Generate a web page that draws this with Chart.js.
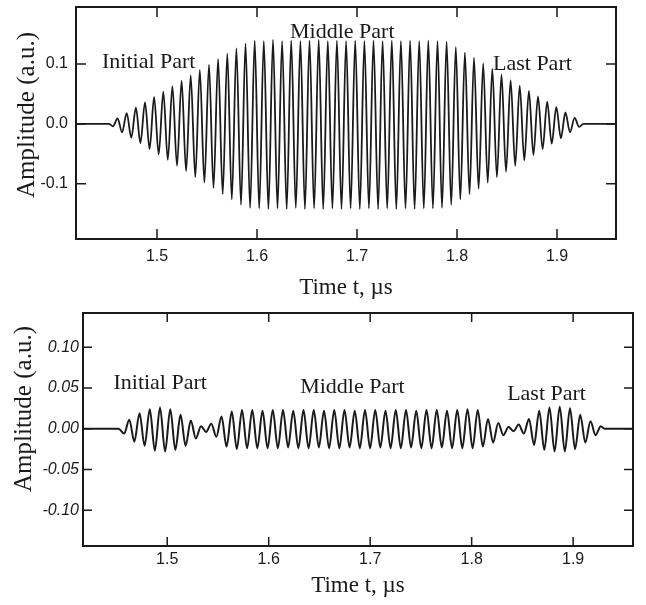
<!DOCTYPE html>
<html>
<head>
<meta charset="utf-8">
<script src="https://cdn.jsdelivr.net/npm/chart.js@4.4.1/dist/chart.umd.min.js"></script>
<style>
    html, body { margin: 0; padding: 0; background: #fff; }
    #wrap { position: relative; width: 646px; height: 605px; }
    canvas { position: absolute; left: 0; }
    #top-chart { top: 0; }
    #bottom-chart { top: 300px; }
</style>
</head>
<body>
<div id="wrap">
    <canvas id="top-chart" width="646" height="300"></canvas>
    <canvas id="bottom-chart" width="646" height="305"></canvas>
</div>
<script>
// Data: extrema of the signals (time in µs, amplitude in a.u.)
const topTime = [1.419, 1.452,
    1.4560, 1.4606, 1.4651, 1.4697, 1.4743, 1.4789, 1.4834, 1.4880, 1.4926, 1.4971,
    1.5017, 1.5063, 1.5108, 1.5154, 1.5200, 1.5246, 1.5291, 1.5337, 1.5383, 1.5428,
    1.5474, 1.5520, 1.5565, 1.5611, 1.5657, 1.5703, 1.5748, 1.5794, 1.5840, 1.5885,
    1.5931, 1.5977, 1.6022, 1.6068, 1.6114, 1.6160, 1.6205, 1.6251, 1.6297, 1.6342,
    1.6388, 1.6434, 1.6479, 1.6525, 1.6571, 1.6617, 1.6662, 1.6708, 1.6754, 1.6799,
    1.6845, 1.6891, 1.6936, 1.6982, 1.7028, 1.7074, 1.7119, 1.7165, 1.7211, 1.7256,
    1.7302, 1.7348, 1.7393, 1.7439, 1.7485, 1.7531, 1.7576, 1.7622, 1.7668, 1.7713,
    1.7759, 1.7805, 1.7850, 1.7896, 1.7942, 1.7988, 1.8033, 1.8079, 1.8125, 1.8170,
    1.8216, 1.8262, 1.8307, 1.8353, 1.8399, 1.8445, 1.8490, 1.8536, 1.8582, 1.8627,
    1.8673, 1.8719, 1.8764, 1.8810, 1.8856, 1.8902, 1.8947, 1.8993, 1.9039, 1.9084,
    1.9130, 1.9176, 1.9221,
    1.9265, 1.959];
const topAmp = [0, 0,
    -0.004, 0.009, -0.014, 0.018, -0.023, 0.027, -0.032, 0.036, -0.042, 0.045,
    -0.051, 0.054, -0.060, 0.063, -0.070, 0.072, -0.079, 0.081, -0.089, 0.090,
    -0.098, 0.099, -0.107, 0.108, -0.117, 0.117, -0.126, 0.126, -0.135, 0.134,
    -0.140, 0.139, -0.141, 0.138, -0.142, 0.140, -0.141, 0.138, -0.142, 0.139,
    -0.140, 0.138, -0.142, 0.139, -0.141, 0.140, -0.142, 0.138, -0.141, 0.139,
    -0.142, 0.138, -0.141, 0.139, -0.142, 0.138, -0.141, 0.139, -0.142, 0.138,
    -0.141, 0.139, -0.142, 0.138, -0.141, 0.139, -0.142, 0.138, -0.141, 0.139,
    -0.141, 0.138, -0.140, 0.137, -0.135, 0.128, -0.126, 0.119, -0.117, 0.110,
    -0.108, 0.101, -0.098, 0.092, -0.089, 0.082, -0.080, 0.073, -0.070, 0.064,
    -0.061, 0.055, -0.052, 0.046, -0.042, 0.037, -0.033, 0.028, -0.024, 0.019,
    -0.014, 0.010, -0.005,
    0, 0];

const bottomTime = [1.417, 1.452,
    1.4575, 1.4626, 1.4676, 1.4727, 1.4777, 1.4828, 1.4878, 1.4929, 1.4979, 1.5030,
    1.5080, 1.5131, 1.5181, 1.5232, 1.5282, 1.5333, 1.5383, 1.5434, 1.5484, 1.5535,
    1.5585, 1.5636, 1.5686, 1.5737, 1.5787, 1.5838, 1.5888, 1.5939, 1.5989, 1.6040,
    1.6090, 1.6141, 1.6191, 1.6242, 1.6292, 1.6343, 1.6393, 1.6444, 1.6494, 1.6545,
    1.6595, 1.6646, 1.6696, 1.6747, 1.6797, 1.6848, 1.6898, 1.6949, 1.6999, 1.7050,
    1.7100, 1.7151, 1.7201, 1.7252, 1.7302, 1.7353, 1.7403, 1.7454, 1.7504, 1.7555,
    1.7605, 1.7656, 1.7706, 1.7757, 1.7807, 1.7858, 1.7908, 1.7959, 1.8009, 1.8060,
    1.8110, 1.8161, 1.8211, 1.8262, 1.8312, 1.8363, 1.8413, 1.8464, 1.8514, 1.8565,
    1.8615, 1.8666, 1.8716, 1.8767, 1.8817, 1.8868, 1.8918, 1.8969, 1.9019, 1.9070,
    1.9120, 1.9171, 1.9221, 1.9272,
    1.931, 1.959];
const bottomAmp = [0, 0,
    -0.006, 0.011, -0.016, 0.019, -0.021, 0.024, -0.027, 0.026, -0.028, 0.024,
    -0.026, 0.017, -0.021, 0.010, -0.012, 0.003, -0.004, 0.006, -0.010, 0.015,
    -0.022, 0.021, -0.025, 0.023, -0.024, 0.023, -0.024, 0.022, -0.024, 0.023,
    -0.024, 0.023, -0.023, 0.022, -0.024, 0.023, -0.024, 0.023, -0.023, 0.022,
    -0.024, 0.023, -0.024, 0.023, -0.023, 0.022, -0.024, 0.023, -0.024, 0.023,
    -0.023, 0.022, -0.024, 0.023, -0.024, 0.023, -0.023, 0.022, -0.024, 0.023,
    -0.024, 0.023, -0.023, 0.022, -0.024, 0.023, -0.024, 0.024, -0.024, 0.023,
    -0.022, 0.012, -0.017, 0.007, -0.008, 0.002, -0.003, 0.005, -0.006, 0.012,
    -0.020, 0.022, -0.026, 0.026, -0.028, 0.027, -0.028, 0.025, -0.025, 0.017,
    -0.017, 0.009, -0.008, 0.003,
    0, 0];

// Axis ticks
const timeTicks = [1.5, 1.6, 1.7, 1.8, 1.9];
const topAmpTicks = [-0.1, 0, 0.1];
const bottomAmpTicks = [-0.10, -0.05, 0, 0.05, 0.10];

// Text
const xTitle = 'Time t, µs';
const yTitle = 'Amplitude (a.u.)';
const partNames = ['Initial Part', 'Middle Part', 'Last Part'];

const INK = '#1a1a1a';
const SERIF = '"Liberation Serif", "Times New Roman", serif';
const SANS = '"Liberation Sans", Arial, sans-serif';

// Frame, inward ticks, notes and the y title
const framePlugin = {
    id: 'frame',
    afterDraw(chart, args, opts) {
        const { ctx, chartArea: a } = chart;
        const x = chart.scales.x;
        const y = chart.scales.y;
        ctx.save();
        ctx.strokeStyle = INK;
        ctx.lineWidth = 2;
        ctx.strokeRect(a.left, a.top, a.right - a.left, a.bottom - a.top);

        ctx.lineWidth = 1.5;
        ctx.beginPath();
        x.ticks.forEach(t => {
            const px = x.getPixelForValue(t.value);
            ctx.moveTo(px, a.bottom);
            ctx.lineTo(px, a.bottom - opts.tickLen);
            ctx.moveTo(px, a.top);
            ctx.lineTo(px, a.top + opts.tickLen);
        });
        y.ticks.forEach(t => {
            const py = y.getPixelForValue(t.value);
            ctx.moveTo(a.left, py);
            ctx.lineTo(a.left + opts.tickLen, py);
            ctx.moveTo(a.right, py);
            ctx.lineTo(a.right - opts.tickLen, py);
        });
        ctx.stroke();

        ctx.fillStyle = INK;
        ctx.font = '22px ' + SERIF;
        ctx.textAlign = 'left';
        ctx.textBaseline = 'alphabetic';
        opts.notes.forEach(n => {
            ctx.fillText(n.text, x.getPixelForValue(n.t), y.getPixelForValue(n.a));
        });

        ctx.font = '25px ' + SERIF;
        ctx.textAlign = 'center';
        ctx.textBaseline = 'middle';
        ctx.translate(opts.titleX, opts.titleY);
        ctx.rotate(-Math.PI / 2);
        ctx.fillText(yTitle, 0, 0);
        ctx.restore();
    }
};

function makeChart(id, times, amps, cfg) {
    const points = times.map((t, i) => ({ x: t, y: amps[i] }));
    return new Chart(document.getElementById(id), {
        type: 'line',
        data: {
            datasets: [{
                data: points,
                borderColor: INK,
                borderWidth: cfg.lineWidth,
                pointRadius: 0,
                cubicInterpolationMode: 'monotone',
                fill: false
            }]
        },
        options: {
            responsive: false,
            animation: false,
            devicePixelRatio: 1,
            layout: { padding: cfg.padding },
            plugins: {
                legend: { display: false },
                tooltip: { enabled: false },
                frame: cfg.frame
            },
            scales: {
                x: {
                    type: 'linear',
                    min: cfg.xMin,
                    max: cfg.xMax,
                    afterBuildTicks: s => { s.ticks = timeTicks.map(v => ({ value: v })); },
                    afterFit: s => {
                        s.height = cfg.xHeight;
                        s.paddingLeft = 0;
                        s.paddingRight = 0;
                    },
                    grid: { display: false, drawTicks: false },
                    border: { display: false },
                    ticks: {
                        color: INK,
                        padding: cfg.xLabelPad,
                        font: { family: SANS, size: 16 },
                        callback: v => v.toFixed(1)
                    },
                    title: {
                        display: true,
                        text: xTitle,
                        color: INK,
                        font: { family: SERIF, size: 23, lineHeight: 1 },
                        padding: { top: 0, bottom: cfg.xTitlePad }
                    }
                },
                y: {
                    min: cfg.yMin,
                    max: cfg.yMax,
                    afterBuildTicks: s => { s.ticks = cfg.yTicks.map(v => ({ value: v })); },
                    afterFit: s => {
                        s.width = cfg.yWidth;
                        // no extra room for edge labels, the plot box is placed by layout padding
                        s.paddingTop = 0;
                        s.paddingBottom = 0;
                    },
                    grid: { display: false, drawTicks: false },
                    border: { display: false },
                    ticks: {
                        color: INK,
                        padding: cfg.yLabelPad,
                        font: { family: SANS, size: 16, style: cfg.yLabelStyle },
                        callback: v => v.toFixed(cfg.yDigits)
                    }
                }
            }
        },
        plugins: [framePlugin]
    });
}

makeChart('top-chart', topTime, topAmp, {
    lineWidth: 1.8,
    padding: { top: 7, right: 30, left: 0, bottom: 0 },
    xMin: 1.419, xMax: 1.959, xHeight: 61, xLabelPad: 8, xTitlePad: 0.5,
    yMin: -0.192, yMax: 0.195, yTicks: topAmpTicks, yWidth: 76, yLabelPad: 8,
    yDigits: 1, yLabelStyle: 'normal',
    frame: {
        tickLen: 10, titleX: 27, titleY: 115,
        notes: [
            { text: partNames[0], t: 1.445, a: 0.093 },
            { text: partNames[1], t: 1.633, a: 0.143 },
            { text: partNames[2], t: 1.836, a: 0.090 }
        ]
    }
});

makeChart('bottom-chart', bottomTime, bottomAmp, {
    lineWidth: 2,
    padding: { top: 13, right: 13, left: 0, bottom: 0 },
    xMin: 1.417, xMax: 1.959, xHeight: 59, xLabelPad: 4, xTitlePad: 7.5,
    yMin: -0.144, yMax: 0.142, yTicks: bottomAmpTicks, yWidth: 83, yLabelPad: 4,
    yDigits: 2, yLabelStyle: 'italic',
    frame: {
        tickLen: 9, titleX: 24, titleY: 109,
        notes: [
            { text: partNames[0], t: 1.447, a: 0.049 },
            { text: partNames[1], t: 1.631, a: 0.044 },
            { text: partNames[2], t: 1.835, a: 0.035 }
        ]
    }
});
</script>
</body>
</html>
